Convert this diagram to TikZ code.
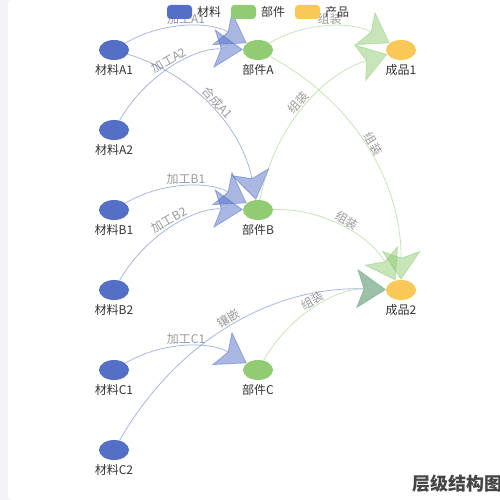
\documentclass[tikz,border=0pt]{standalone}
\usepackage{fontspec}
\setmainfont{Noto Sans CJK SC}
\usetikzlibrary{calc,arrows.meta,shapes.geometric}
\definecolor{cmat}{HTML}{5470C6}
\definecolor{cpart}{HTML}{91CC75}
\definecolor{cprod}{HTML}{FAC858}
\definecolor{panelgray}{HTML}{F3F3F8}
\definecolor{lblgray}{HTML}{9A9A9A}
\definecolor{txt}{HTML}{333333}
\definecolor{ttl}{HTML}{464646}
\pgfdeclarelayer{bgl}
\pgfdeclarelayer{edgel}
\pgfsetlayers{bgl,edgel,main}
\tikzset{
  gnode/.style={ellipse, minimum width=30pt, minimum height=20pt, inner sep=0pt, draw=none},
  mat/.style={gnode, fill=cmat},
  part/.style={gnode, fill=cpart},
  prod/.style={gnode, fill=cprod},
  nlbl/.style={text=txt, font=\fontsize{12}{14}\selectfont, inner sep=0pt},
  elbl/.style={midway, sloped, above, opacity=1, text=lblgray, font=\fontsize{12}{14}\selectfont, inner sep=2pt},
  arr/.style={line width=0.8pt, opacity=0.5, -{Stealth[length=29pt,width=39pt,inset=7pt]}},
  eblue/.style={arr, draw=cmat},
  egreen/.style={arr, draw=cpart},
  legrect/.style={rounded corners=3.5pt, minimum width=25pt, minimum height=14pt, inner sep=0pt},
  legtxt/.style={anchor=west, text=txt, font=\fontsize{12}{14}\selectfont, inner sep=0pt}
}
\newcommand\myedge[5]{%
  \coordinate (q#5) at ($(#2)!0.5!(#3)!0.6!90:(#3)$);
  \draw[#1] (#2) .. controls ($(#2)!2/3!(q#5)$) and ($(#3)!2/3!(q#5)$) .. node[elbl]{#4} (#3);
}
\begin{document}
\begin{tikzpicture}[x=1pt,y=-1pt]
\useasboundingbox (0,0) rectangle (500,500);
\begin{pgfonlayer}{bgl}
  \fill[panelgray] (0,0) rectangle (500,500);
  \fill[white, rounded corners=4pt] (8,0) rectangle (520,500);
\end{pgfonlayer}
% nodes
\node[mat] (A1) at (114,50) {};
\node[mat] (A2) at (114,130) {};
\node[mat] (B1) at (114,210) {};
\node[mat] (B2) at (114,290) {};
\node[mat] (C1) at (114,370) {};
\node[mat] (C2) at (114,450) {};
\node[part] (PA) at (258,50) {};
\node[part] (PB) at (258,210) {};
\node[part] (PC) at (258,370) {};
\node[prod] (P1) at (401,50) {};
\node[prod] (P2) at (401,290) {};
% node labels
\node[nlbl] (tA1) at (114,70) {材料A1};
\node[nlbl] (tA2) at (114,150) {材料A2};
\node[nlbl] (tB1) at (114,230) {材料B1};
\node[nlbl] (tB2) at (114,310) {材料B2};
\node[nlbl] (tC1) at (114,390) {材料C1};
\node[nlbl] (tC2) at (114,470) {材料C2};
\node[nlbl] (tPA) at (258,70) {部件A};
\node[nlbl] (tPB) at (258,230) {部件B};
\node[nlbl] (tPC) at (258,390) {部件C};
\node[nlbl] (tP1) at (401,70) {成品1};
\node[nlbl] (tP2) at (401,310) {成品2};
% edges
\begin{pgfonlayer}{edgel}
  \myedge{eblue}{A1}{PA}{加工A1}{1}
  \myedge{eblue}{A2}{PA}{加工A2}{2}
  \myedge{eblue}{A1}{PB}{合成A1}{3}
  \myedge{eblue}{B1}{PB}{加工B1}{4}
  \myedge{eblue}{B2}{PB}{加工B2}{5}
  \myedge{eblue}{C1}{PC}{加工C1}{6}
  \myedge{eblue}{C2}{P2}{镶嵌}{7}
  \myedge{egreen}{PA}{P1}{组装}{8}
  \myedge{egreen}{PB}{P1}{组装}{9}
  \myedge{egreen}{PA}{P2}{组装}{10}
  \myedge{egreen}{PB}{P2}{组装}{11}
  \myedge{egreen}{PC}{P2}{组装}{12}
\end{pgfonlayer}
% legend
\node[legrect, fill=cmat] (lg1) at (179.5,12) {};
\node[legtxt] (lt1) at (197,12) {材料};
\node[legrect, fill=cpart] (lg2) at (243.5,12) {};
\node[legtxt] (lt2) at (261,12) {部件};
\node[legrect, fill=cprod] (lg3) at (307.5,12) {};
\node[legtxt] (lt3) at (325,12) {产品};
% title
\node[anchor=west, inner sep=0pt, text=ttl, font=\fontsize{18}{20}\selectfont\bfseries] (title) at (412,484) {层级结构图};
\end{tikzpicture}
\end{document}
